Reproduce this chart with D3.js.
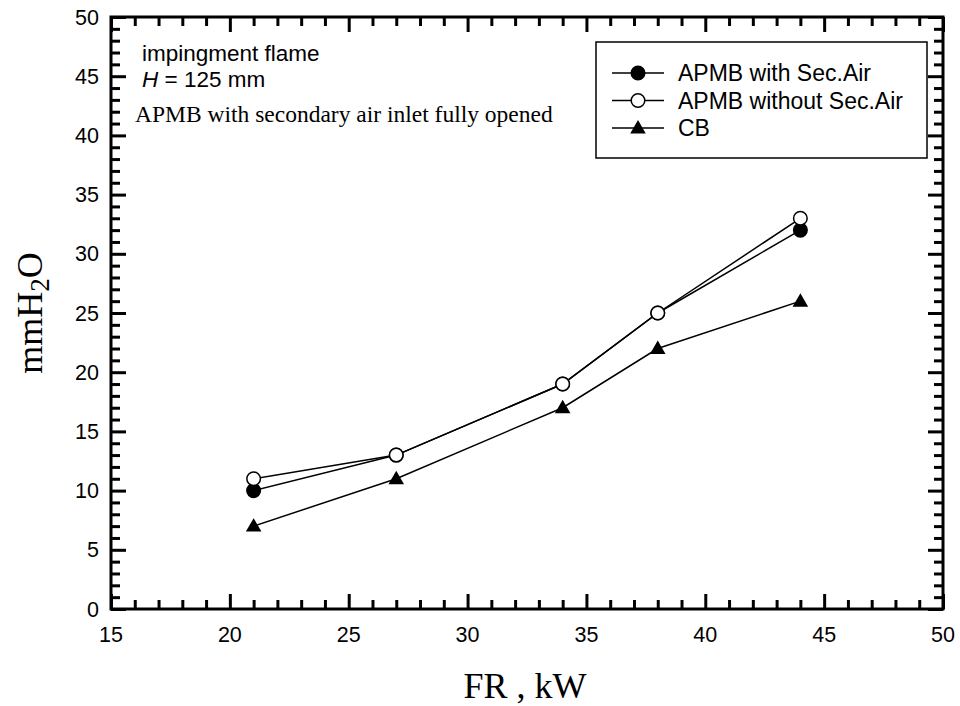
<!DOCTYPE html>
<html>
<head>
<meta charset="utf-8">
<script src="https://cdn.jsdelivr.net/npm/d3@7"></script>
<style>
  body { margin: 0; background: #fff; }
  svg { display: block; }
</style>
</head>
<body>
<div id="main"></div>
<script>
// data
var fr = [21, 27, 34, 38, 44];
var withSec = [10, 13, 19, 25, 32];
var withoutSec = [11, 13, 19, 25, 33];
var cb = [7, 11, 17, 22, 26];
var seriesNames = ['APMB with Sec.Air', 'APMB without Sec.Air', 'CB'];
var xTicks = [15, 20, 25, 30, 35, 40, 45, 50];
var yTicks = [0, 5, 10, 15, 20, 25, 30, 35, 40, 45, 50];

var width = 960, height = 706;
// plot frame edges (window.top is reserved, so no "top" here)
var pLeft = 111, pRight = 943, pTop = 17, pBottom = 609;
var sans = 'Liberation Sans, Arial, sans-serif';
var serif = 'Liberation Serif, Times New Roman, serif';

var svg = d3.select('#main').append('svg')
  .attr('width', width)
  .attr('height', height);

var x = d3.scaleLinear().domain([15, 50]).range([pLeft, pRight]);
var y = d3.scaleLinear().domain([0, 50]).range([pBottom, pTop]);

var minX = d3.range(15, 51, 1).filter(function(v) { return v % 5 !== 0; });
var minY = d3.range(0, 51, 1).filter(function(v) { return v % 5 !== 0; });

// ticks, all pointing inward, on all four sides
function tickAxis(axisFn, scale, vals, size, transform) {
  svg.append('g')
    .attr('transform', transform)
    .call(axisFn(scale).tickValues(vals).tickSize(size).tickFormat(''))
    .call(function(g) {
      g.select('.domain').remove();
      g.selectAll('line').attr('stroke', '#000').attr('stroke-width', 3);
    });
}
tickAxis(d3.axisTop, x, minX, 9, 'translate(0,' + pBottom + ')');
tickAxis(d3.axisTop, x, xTicks, 15, 'translate(0,' + pBottom + ')');
tickAxis(d3.axisBottom, x, minX, 9, 'translate(0,' + pTop + ')');
tickAxis(d3.axisBottom, x, xTicks, 15, 'translate(0,' + pTop + ')');
tickAxis(d3.axisRight, y, minY, 9, 'translate(' + pLeft + ',0)');
tickAxis(d3.axisRight, y, yTicks, 15, 'translate(' + pLeft + ',0)');
tickAxis(d3.axisLeft, y, minY, 9, 'translate(' + pRight + ',0)');
tickAxis(d3.axisLeft, y, yTicks, 15, 'translate(' + pRight + ',0)');

// frame
svg.append('rect')
  .attr('x', pLeft).attr('y', pTop)
  .attr('width', pRight - pLeft).attr('height', pBottom - pTop)
  .attr('fill', 'none').attr('stroke', '#000').attr('stroke-width', 3);

// tick labels
svg.append('g').selectAll('text')
  .data(xTicks).enter().append('text')
  .attr('x', function(d) { return x(d); })
  .attr('y', pBottom + 33)
  .attr('text-anchor', 'middle')
  .attr('font-family', sans)
  .attr('font-size', 21.5)
  .text(function(d) { return d; });

svg.append('g').selectAll('text')
  .data(yTicks).enter().append('text')
  .attr('x', pLeft - 12)
  .attr('y', function(d) { return y(d); })
  .attr('dy', '0.35em')
  .attr('text-anchor', 'end')
  .attr('font-family', sans)
  .attr('font-size', 21.5)
  .text(function(d) { return d; });

// axis titles
svg.append('text')
  .attr('x', 525)
  .attr('y', 698)
  .attr('text-anchor', 'middle')
  .attr('font-family', serif)
  .attr('font-size', 36)
  .text('FR , kW');

var yt = svg.append('text')
  .attr('transform', 'translate(42,' + ((pTop + pBottom) / 2) + ') rotate(-90)')
  .attr('text-anchor', 'middle')
  .attr('font-family', serif)
  .attr('font-size', 36);
yt.append('tspan').text('mmH');
yt.append('tspan').attr('font-size', 27).attr('dy', 7).text('2');
yt.append('tspan').attr('dy', -7).text('O');

// annotations
var ann = svg.append('g').attr('font-family', sans).attr('font-size', 22.5);
ann.append('text').attr('x', 142).attr('y', 61).text('impingment flame');
var h = ann.append('text').attr('x', 142).attr('y', 87);
h.append('tspan').attr('font-style', 'italic').text('H');
h.append('tspan').text(' = 125 mm');
svg.append('text')
  .attr('x', 135).attr('y', 122)
  .attr('font-family', serif)
  .attr('font-size', 23.5)
  .text('APMB with secondary air inlet fully opened');

// lines and markers
var line = d3.line()
  .x(function(d) { return x(d[0]); })
  .y(function(d) { return y(d[1]); });

var series = [withSec, withoutSec, cb];
var circle = d3.symbol().type(d3.symbolCircle).size(145);
var tri = d3.symbol().type(d3.symbolTriangle).size(105);

series.forEach(function(vals) {
  var pts = fr.map(function(f, j) { return [f, vals[j]]; });
  svg.append('path')
    .attr('d', line(pts))
    .attr('fill', 'none')
    .attr('stroke', '#000')
    .attr('stroke-width', 1.5);
});

function drawMarker(g, i, px, py) {
  if (i === 2) {
    g.append('path').attr('d', tri)
      .attr('transform', 'translate(' + px + ',' + (py + 1) + ')')
      .attr('fill', '#000');
  } else {
    g.append('path').attr('d', circle)
      .attr('transform', 'translate(' + px + ',' + py + ')')
      .attr('fill', i === 0 ? '#000' : '#fff')
      .attr('stroke', '#000')
      .attr('stroke-width', 1.5);
  }
}

var marks = svg.append('g');
series.forEach(function(vals, i) {
  fr.forEach(function(f, j) { drawMarker(marks, i, x(f), y(vals[j])); });
});

// legend
var lg = svg.append('g');
lg.append('rect')
  .attr('x', 596).attr('y', 42)
  .attr('width', 331).attr('height', 116)
  .attr('fill', '#fff').attr('stroke', '#000').attr('stroke-width', 1.5);
seriesNames.forEach(function(name, i) {
  var ry = 73 + i * 27.5;
  lg.append('line')
    .attr('x1', 612).attr('x2', 664)
    .attr('y1', ry).attr('y2', ry)
    .attr('stroke', '#000').attr('stroke-width', 1.5);
  drawMarker(lg, i, 638, ry);
  lg.append('text')
    .attr('x', 678).attr('y', ry)
    .attr('dy', '0.35em')
    .attr('font-family', sans)
    .attr('font-size', 23)
    .text(name);
});
</script>
</body>
</html>
